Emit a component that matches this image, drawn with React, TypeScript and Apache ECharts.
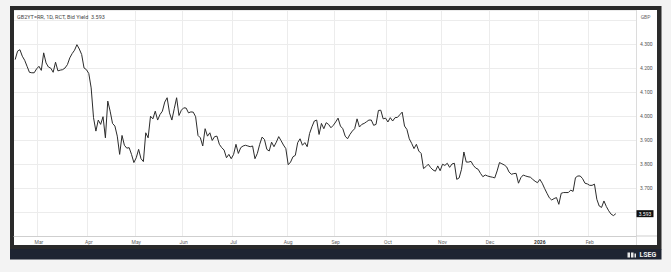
import React, { useEffect, useRef } from 'react';
import * as echarts from 'echarts';

// ---- Categories: UK trading days starting 17 Feb 2025 ----
const START_DATE = '2025-02-17';
const CATEGORY_COUNT = 262;
const UK_HOLIDAYS = ['2025-04-18', '2025-04-21', '2025-05-05', '2025-05-26', '2025-08-25', '2025-12-25', '2025-12-26', '2026-01-01'];
const MONTH_LABELS = ['Jan', 'Feb', 'Mar', 'Apr', 'May', 'Jun', 'Jul', 'Aug', 'Sep', 'Oct', 'Nov', 'Dec'];

// ---- Series values (GB 2Y bid yield, daily) ----
const yieldFeb25 = [4.235, 4.27, 4.276, 4.249, 4.232, 4.207, 4.182, 4.18, 4.18, 4.196];
const yieldMar25 = [4.207, 4.19, 4.263, 4.221, 4.204, 4.199, 4.182, 4.224, 4.188, 4.191, 4.193, 4.2, 4.214, 4.242, 4.26, 4.274, 4.297, 4.279, 4.256, 4.2, 4.193];
const yieldApr25 = [4.177, 4.117, 3.993, 3.937, 3.983, 3.965, 3.997, 3.909, 4.062, 4.02, 3.969, 3.958, 3.916, 3.84, 3.919, 3.878, 3.866, 3.868, 3.84, 3.806];
const yieldMay25 = [3.826, 3.861, 3.822, 3.81, 3.93, 3.909, 3.999, 3.988, 4.02, 3.983, 4.006, 4.02, 4.058, 4.076, 4.013, 3.983, 4.03, 4.076, 4.002, 4.024];
const yieldJun25 = [4.034, 4.033, 4.013, 4.017, 4.016, 3.997, 3.919, 3.909, 3.875, 3.947, 3.916, 3.93, 3.898, 3.914, 3.916, 3.882, 3.868, 3.858, 3.826, 3.84, 3.822];
const yieldJul25 = [3.84, 3.882, 3.844, 3.868, 3.875, 3.878, 3.875, 3.872, 3.875, 3.822, 3.844, 3.882, 3.912, 3.902, 3.861, 3.854, 3.891, 3.872, 3.891, 3.914, 3.897, 3.879, 3.864];
const yieldAug25 = [3.797, 3.808, 3.83, 3.836, 3.889, 3.905, 3.878, 3.889, 3.872, 3.927, 3.955, 3.979, 3.983, 3.923, 3.969, 3.947, 3.972, 3.965, 3.951, 3.961];
const yieldSep25 = [3.975, 3.991, 3.958, 3.947, 3.916, 3.905, 3.923, 3.937, 3.947, 3.988, 3.954, 3.965, 3.969, 3.976, 3.983, 3.983, 3.961, 3.965, 4.023, 4.024, 3.988, 3.991];
const yieldOct25 = [3.975, 3.993, 3.979, 3.993, 3.994, 4.005, 4.016, 3.958, 3.944, 3.905, 3.886, 3.864, 3.882, 3.854, 3.844, 3.781, 3.789, 3.799, 3.785, 3.775, 3.77, 3.792, 3.772];
const yieldNov25 = [3.799, 3.794, 3.803, 3.786, 3.8, 3.803, 3.736, 3.742, 3.778, 3.85, 3.808, 3.808, 3.811, 3.794, 3.783, 3.778, 3.761, 3.747, 3.754, 3.75];
const yieldDec25 = [3.747, 3.745, 3.742, 3.771, 3.806, 3.801, 3.796, 3.788, 3.767, 3.757, 3.76, 3.761, 3.72, 3.743, 3.754, 3.75, 3.747, 3.745, 3.736, 3.728, 3.722];
const yieldJan26 = [3.736, 3.72, 3.698, 3.678, 3.659, 3.65, 3.656, 3.66, 3.632, 3.678, 3.681, 3.681, 3.681, 3.691, 3.686, 3.743, 3.75, 3.75, 3.739, 3.72, 3.717];
const yieldFeb26 = [3.711, 3.711, 3.716, 3.653, 3.625, 3.619, 3.646, 3.623, 3.605, 3.591, 3.585, 3.593];

const yieldValues = [
  ...yieldFeb25, ...yieldMar25, ...yieldApr25, ...yieldMay25, ...yieldJun25, ...yieldJul25,
  ...yieldAug25, ...yieldSep25, ...yieldOct25, ...yieldNov25, ...yieldDec25, ...yieldJan26, ...yieldFeb26,
];

const HEADER = 'GB2YT=RR, 1D, RCT, Bid Yield  ';

function buildTradingDays(): string[] {
  const out: string[] = [];
  const d = new Date(START_DATE + 'T00:00:00Z');
  while (out.length < CATEGORY_COUNT) {
    const dow = d.getUTCDay();
    const iso = d.toISOString().slice(0, 10);
    if (dow !== 0 && dow !== 6 && !UK_HOLIDAYS.includes(iso)) out.push(iso);
    d.setUTCDate(d.getUTCDate() + 1);
  }
  return out;
}

export default function App() {
  const ref = useRef<HTMLDivElement>(null);

  useEffect(() => {
    if (!ref.current) return;
    const chart = echarts.init(ref.current, undefined, { renderer: 'svg' });
    const dates = buildTradingDays();
    const monthStart = new Set<number>();
    for (let i = 1; i < dates.length; i++) {
      if (dates[i].slice(5, 7) !== dates[i - 1].slice(5, 7)) monthStart.add(i);
    }
    const lastValue = yieldValues[yieldValues.length - 1];
    const font = 'Roboto, "Noto Sans", sans-serif';

    const baseGraphic: any[] = [
      { id: 'frame', type: 'rect', z: -20, shape: { x: 10, y: 6, width: 651.5, height: 243.5 }, style: { fill: '#2a2a2a' } },
      { id: 'bar', type: 'rect', z: -20, shape: { x: 10, y: 249, width: 651.5, height: 10.5 }, style: { fill: '#1e2432' } },
      { id: 'white', type: 'rect', z: -19, shape: { x: 14, y: 10, width: 643, height: 235 }, style: { fill: '#ffffff' } },
      { id: 'sep', type: 'line', z: 10, shape: { x1: 636.5, y1: 10, x2: 636.5, y2: 245 }, style: { stroke: '#dcdcdc', lineWidth: 1 } },
      { id: 'botext', type: 'line', z: 10, shape: { x1: 636, y1: 236, x2: 657, y2: 236 }, style: { stroke: '#cfcfcf', lineWidth: 1 } },
      { id: 'header', type: 'text', z: 20, x: 17, y: 16.7, style: { text: HEADER + lastValue.toFixed(3), fontSize: 5.5, fill: '#444', fontFamily: font, verticalAlign: 'middle', align: 'left' } },
      { id: 'gbp', type: 'text', z: 20, x: 645.5, y: 16.5, style: { text: 'GBP', fontSize: 5, fill: '#666', fontFamily: font, verticalAlign: 'middle', align: 'center' } },
      { id: 'logo1', type: 'rect', z: 20, shape: { x: 627.5, y: 252.5, width: 2.5, height: 5 }, style: { fill: '#e8e8e8' } },
      { id: 'logo2', type: 'rect', z: 20, shape: { x: 631, y: 252.5, width: 2.5, height: 5 }, style: { fill: '#e8e8e8' } },
      { id: 'logo3', type: 'rect', z: 20, shape: { x: 634.5, y: 253.5, width: 1.5, height: 4 }, style: { fill: '#e8e8e8' } },
      { id: 'lseg', type: 'text', z: 20, x: 639.5, y: 255.2, style: { text: 'LSEG', fontSize: 7, fontWeight: 'bold', fill: '#f0f0f0', fontFamily: font, verticalAlign: 'middle', align: 'left' } },
    ];

    chart.setOption({
      animation: false,
      backgroundColor: '#f3f3f3',
      textStyle: { fontFamily: font },
      grid: { left: 14, right: 35, top: 10, bottom: 36, containLabel: false },
      xAxis: {
        type: 'category',
        data: dates,
        boundaryGap: true,
        axisLine: { show: true, lineStyle: { color: '#cfcfcf', width: 1 } },
        axisTick: { show: false },
        axisLabel: {
          interval: (i: number) => monthStart.has(i),
          fontSize: 5,
          color: '#666',
          margin: 3,
          formatter: (v: string) => {
            const m = parseInt(v.slice(5, 7), 10) - 1;
            if (m === 0) return '{yr|' + v.slice(0, 4) + '}';
            return MONTH_LABELS[m];
          },
          rich: { yr: { fontSize: 5, fontWeight: 'bold', color: '#333', fontFamily: font } },
        },
        splitLine: { show: true, interval: (i: number) => monthStart.has(i), lineStyle: { color: '#ececec', width: 1 } },
      },
      yAxis: {
        type: 'value',
        position: 'right',
        min: 3.5,
        max: 4.4415,
        interval: 0.1,
        axisLine: { show: false },
        axisTick: { show: false },
        axisLabel: {
          showMaxLabel: false,
          showMinLabel: false,
          fontSize: 5,
          color: '#555',
          margin: 4,
          align: 'left',
          formatter: (v: number) => (v > 3.65 && v < 4.35 ? v.toFixed(3) : ''),
        },
        splitLine: { show: true, lineStyle: { color: '#ececec', width: 1 } },
      },
      series: [
        {
          type: 'line',
          data: yieldValues,
          showSymbol: false,
          symbol: 'none',
          lineStyle: { color: '#2b2b2b', width: 1 },
          z: 3,
        },
      ],
      graphic: baseGraphic,
    });

    const py = chart.convertToPixel({ yAxisIndex: 0 } as any, lastValue) as number;
    chart.setOption({
      graphic: [
        ...baseGraphic,
        { id: 'pbox', type: 'rect', z: 30, shape: { x: 636.5, y: py - 3.5, width: 17, height: 7 }, style: { fill: '#111' } },
        { id: 'ptxt', type: 'text', z: 31, x: 645, y: py, style: { text: lastValue.toFixed(3), fontSize: 5, fill: '#fff', fontFamily: font, align: 'center', verticalAlign: 'middle' } },
      ],
    });

    return () => chart.dispose();
  }, []);

  return <div ref={ref} style={{ position: 'fixed', left: 0, top: 0, width: 671, height: 272 }} />;
}
